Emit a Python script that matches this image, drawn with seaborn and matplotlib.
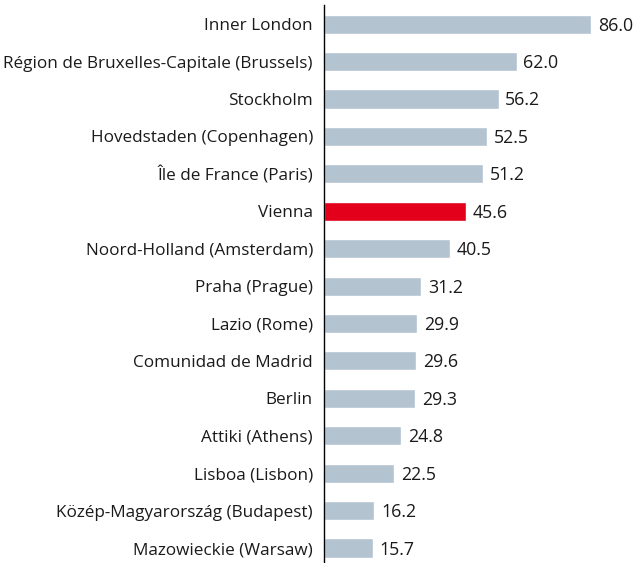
import pandas as pd
import seaborn as sns
import matplotlib.pyplot as plt

# ------- Data -------
regions = [
    "Inner London",
    "Région de Bruxelles-Capitale (Brussels)",
    "Stockholm",
    "Hovedstaden (Copenhagen)",
    "Île de France (Paris)",
    "Vienna",
    "Noord-Holland (Amsterdam)",
    "Praha (Prague)",
    "Lazio (Rome)",
    "Comunidad de Madrid",
    "Berlin",
    "Attiki (Athens)",
    "Lisboa (Lisbon)",
    "Közép-Magyarország (Budapest)",
    "Mazowieckie (Warsaw)",
]
values = [86.0, 62.0, 56.2, 52.5, 51.2, 45.6, 40.5, 31.2, 29.9, 29.6, 29.3, 24.8, 22.5, 16.2, 15.7]
highlight = "Vienna"

df = pd.DataFrame({"region": regions, "value": values})
palette = {r: ("#e2001a" if r == highlight else "#b4c3d0") for r in regions}

# ------- Plot -------
sns.set_style("white")
plt.rcParams["font.family"] = ["Open Sans", "DejaVu Sans"]

fig = plt.figure(figsize=(6.42, 5.63), dpi=100)
ax = fig.add_axes([0.5047, 0.0, 0.4953, 0.991])

sns.barplot(data=df, x="value", y="region", hue="region", palette=palette,
            legend=False, width=0.51, saturation=1, ax=ax, orient="h")

for i, v in enumerate(values):
    ax.text(v + 2.2, i + 0.04, f"{v:.1f}", va="center", ha="left", fontsize=12.8, color="#1a1a1a")

ax.set_xlim(0, 102.4)
ax.set_ylim(14.4, -0.51)
ax.set_xlabel("")
ax.set_ylabel("")
ax.set_xticks([])
ax.tick_params(axis="y", length=0, pad=8, labelsize=12.3, labelcolor="#1a1a1a")
for lbl in ax.get_yticklabels():
    lbl.set_y(lbl.get_position()[1])
for side in ["top", "right", "bottom"]:
    ax.spines[side].set_visible(False)
ax.spines["left"].set_color("black")
ax.spines["left"].set_linewidth(1.0)

fig.savefig("out.png", dpi=100)
